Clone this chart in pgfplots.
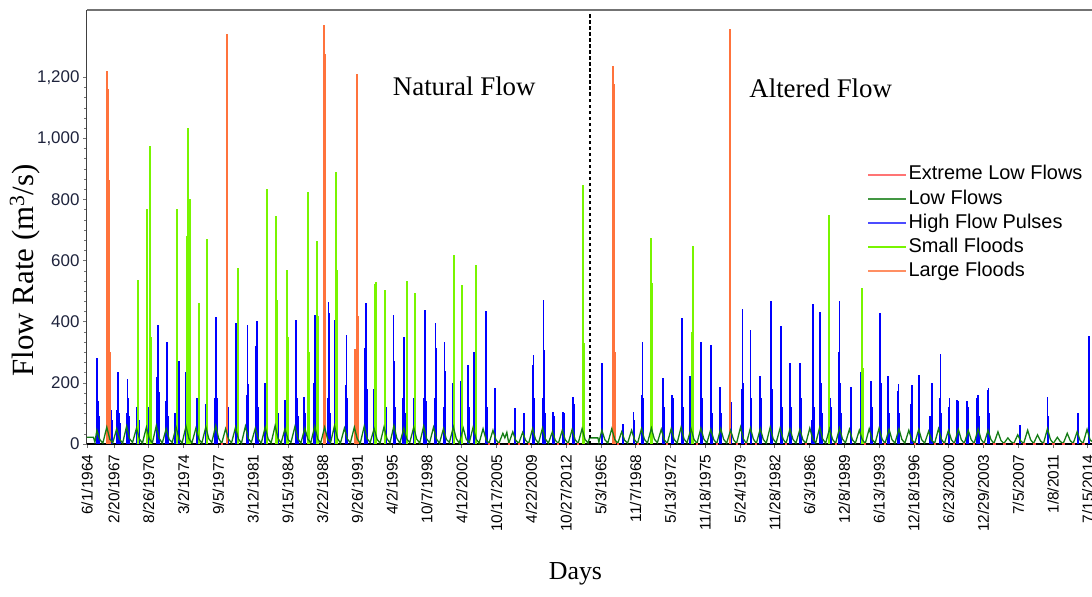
\documentclass[border=0pt]{standalone}
\usepackage{fontspec}
\setmainfont{Liberation Sans}
\newfontfamily\seriffont{Liberation Serif}
\usepackage{xcolor}
\usepackage{pgfplots}
\pgfplotsset{compat=1.18}

\definecolor{exlow}{RGB}{255,70,70}
\definecolor{lowf}{RGB}{20,125,20}
\definecolor{hfp}{RGB}{0,0,255}
\definecolor{smf}{RGB}{120,245,0}
\definecolor{lgf}{RGB}{255,115,60}
\definecolor{ticknavy}{RGB}{30,35,60}

\begin{document}
\begin{tikzpicture}
\begin{axis}[
    name=ax,
    scale only axis,
    width=1005bp, height=434bp,
    xmin=0, xmax=101.5,
    ymin=0, ymax=1420,
    axis x line*=bottom, axis y line*=left,
    x axis line style={-, black, line width=1.6bp},
    y axis line style={-, black!75, line width=1bp},
    tick align=outside,
    tick style={black!55, line width=0.6bp},
    major tick length=4bp, minor tick length=3bp,
    ytick={0,200,...,1200},
    minor y tick num=5,
    /pgf/number format/1000 sep={,},
    /pgf/number format/assume math mode=true,
    yticklabel style={font=\fontsize{17}{20}\selectfont, text=ticknavy},
    xtick={0,2.72,6.23,9.75,13.26,16.77,20.28,23.80,27.31,30.82,34.33,37.85,41.36,44.87,48.39,
           51.90,55.41,58.92,62.43,65.95,69.46,72.97,76.48,80.00,83.51,87.02,90.53,94.05,97.56,101.07},
    xticklabels={6/1/1964,2/20/1967,8/26/1970,3/2/1974,9/5/1977,3/12/1981,9/15/1984,3/22/1988,
                 9/26/1991,4/2/1995,10/7/1998,4/12/2002,10/17/2005,4/22/2009,10/27/2012,
                 5/3/1965,11/7/1968,5/13/1972,11/18/1975,5/24/1979,11/28/1982,6/3/1986,
                 12/8/1989,6/13/1993,12/18/1996,6/23/2000,12/29/2003,7/5/2007,1/8/2011,7/15/2014},
    x tick label style={rotate=90, anchor=east, font=\fontsize{15.5}{18}\selectfont, xshift=-3bp},
    xlabel={Days},
    xlabel style={font=\seriffont\fontsize{26}{30}\selectfont, at={(rel axis cs:0.486,-0.30)}, anchor=center},
    ylabel={Flow Rate (m\textsuperscript{3}/s)},
    ylabel style={font=\seriffont\fontsize{31}{34}\selectfont, at={(rel axis cs:-0.062,0.40)}, anchor=center},
    legend cell align=left,
    legend image code/.code={\draw[#1] (0bp,0bp) -- (38bp,0bp);},
    legend style={at={(0.776,0.646)}, anchor=north west, draw=none, fill=none,
                  font=\fontsize{20}{24}\selectfont, row sep=2.7bp, inner sep=0pt,
                  nodes={inner sep=1.5bp, text height=14.5bp, text depth=4bp}},
    unbounded coords=jump,
]

\addlegendimage{color=exlow!75, line width=2bp}
\addlegendentry{Extreme Low Flows}
\addlegendimage{color=lowf!80, line width=2bp}
\addlegendentry{Low Flows}
\addlegendimage{color=hfp!70, line width=2bp}
\addlegendentry{High Flow Pulses}
\addlegendimage{color=smf, line width=2bp}
\addlegendentry{Small Floods}
\addlegendimage{color=lgf!80, line width=2bp}
\addlegendentry{Large Floods}

% high flow pulses
\addplot[ycomb, hfp, line width=1.8bp, forget plot] coordinates {
(1.0,180)(1.04,281)(1.1,100)(1.15,140)(1.22,90)
(2.4,70)(2.45,110)(2.5,80)
(3.05,110)(3.1,234)(3.15,145)(3.25,100)(3.3,70)
(4.05,100)(4.1,212)(4.15,150)(4.22,90)(4.3,60)
(5.05,120)(5.1,212)(5.15,140)(5.22,80)
(6.15,110)(6.25,120)(6.3,70)
(7.1,220)(7.15,170)(7.2,390)(7.25,170)(7.32,100)
(8.0,140)(8.05,335)(8.1,130)(8.18,90)
(8.9,100)(9.2,215)(9.25,100)(9.3,272)(9.35,130)
(10.0,237)(10.05,140)(10.12,100)(10.2,70)
(11.1,150)(11.15,110)(11.2,80)
(12.0,130)(12.08,90)(12.15,60)
(12.95,150)(13.0,417)(13.05,305)(13.1,150)(13.18,100)
(14.2,120)(14.25,80)
(15.0,150)(15.05,395)(15.1,335)(15.15,150)(15.22,90)
(16.1,160)(16.2,390)(16.25,195)(16.3,120)
(17.1,320)(17.15,180)(17.2,404)(17.25,120)(17.32,80)
(18.0,200)(18.05,140)(18.1,90)
(19.2,150)(19.25,100)
(20.0,145)(20.1,100)
(21.05,120)(21.1,407)(21.15,230)(21.2,150)(21.28,90)
(21.9,155)(21.95,150)(22.0,100)
(22.95,200)(23.0,423)(23.05,180)(23.1,120)
(24.35,150)(24.4,463)(24.45,430)(24.5,200)(24.55,100)
(25.0,200)(25.05,406)(25.1,150)
(26.15,193)(26.2,357)(26.25,150)(26.3,90)
(27.1,150)(27.2,100)
(28.1,313)(28.15,150)(28.2,461)(28.25,180)(28.3,100)
(29.0,180)(29.05,120)(29.15,90)
(30.1,220)(30.15,215)(30.2,120)(30.25,90)
(30.95,423)(31.0,270)(31.05,150)(31.1,120)
(31.95,150)(32.0,350)(32.05,180)(32.1,100)
(33.0,150)(33.1,100)
(34.05,150)(34.1,437)(34.15,346)(34.2,140)(34.25,90)
(35.1,150)(35.2,395)(35.25,313)(35.3,120)
(36.05,120)(36.1,335)(36.15,240)(36.2,100)
(37.0,200)(37.05,150)(37.1,90)
(37.8,205)(37.85,120)(37.9,90)
(38.5,259)(38.55,120)(39.05,140)(39.1,302)(39.15,120)
(40.25,150)(40.3,434)(40.35,200)(40.4,120)
(41.15,175)(41.2,183)(41.25,100)
(43.2,117)(43.25,70)
(44.1,101)(44.15,80)
(45.05,260)(45.1,291)(45.15,150)(45.2,90)
(46.05,150)(46.1,472)(46.15,308)(46.2,200)(46.25,100)
(47.1,106)(47.15,90)
(48.05,80)(48.1,106)(48.15,100)
(49.1,155)(49.15,130)(49.2,90)
(50.05,150)(50.1,338)(50.15,120)
(52.0,266)(52.05,100)
(54.1,67)
(55.2,106)(55.25,80)
(56.05,160)(56.1,335)(56.15,150)(56.2,90)
(57.05,150)(57.1,120)
(58.15,160)(58.2,215)(58.25,120)
(59.1,160)(59.15,150)(59.2,90)
(60.05,150)(60.1,412)(60.15,255)(60.2,120)
(60.9,221)(60.95,150)(61.0,100)
(62.0,335)(62.05,225)(62.1,150)(62.15,90)
(63.0,324)(63.05,150)(63.1,100)
(63.9,186)(63.95,170)(64.0,100)
(65.0,138)(65.05,100)
(66.15,180)(66.2,441)(66.25,200)(66.3,120)
(67.0,374)(67.05,150)(67.1,120)
(68.0,223)(68.05,150)(68.1,100)
(69.05,253)(69.1,467)(69.15,180)(69.2,120)
(70.05,150)(70.1,387)(70.15,230)(70.2,120)
(71.0,264)(71.05,190)(71.1,120)
(72.0,264)(72.05,240)(72.1,150)(72.15,90)
(73.25,80)(73.3,459)(73.35,200)(73.4,120)
(74.0,431)(74.05,400)(74.1,200)(74.15,150)(74.2,100)
(75.0,150)(75.1,120)
(75.95,300)(76.0,469)(76.05,200)(76.1,150)(76.15,100)
(77.1,183)(77.15,185)(77.2,100)
(78.2,237)(78.25,150)
(79.2,205)(79.25,120)
(80.05,290)(80.1,428)(80.15,200)(80.2,120)
(80.9,221)(80.95,188)(81.0,100)
(81.9,173)(81.95,197)(82.0,100)
(83.25,130)(83.3,194)(83.35,100)
(84.0,226)(84.05,120)
(85.1,90)(85.3,201)(85.35,100)
(86.15,150)(86.2,295)(86.25,100)
(87.0,120)(87.1,150)
(87.9,144)(87.95,140)(88.0,90)
(88.9,141)(88.95,120)
(89.9,150)(90.0,161)(90.05,90)
(91.0,177)(91.05,183)(91.1,100)
(94.2,62)
(97.0,155)(97.05,90)
(100.05,100)(100.1,101)
(101.15,100)(101.2,354)
};

% small floods
\addplot[ycomb, smf, line width=2bp, forget plot] coordinates {
(5.15,535)(5.2,275)
(6.05,770)(6.1,680)(6.4,975)(6.45,350)
(9.06,770)(9.1,300)
(10.07,680)(10.23,1035)(10.4,800)(10.45,460)
(11.35,460)
(12.09,670)(12.15,300)
(15.3,575)
(18.15,835)(18.2,350)
(19.1,745)(19.15,470)
(20.2,570)(20.25,350)
(22.35,825)(22.4,300)
(23.2,645)(23.25,665)(23.3,420)
(25.15,890)(25.2,570)
(29.1,525)(29.15,530)
(30.1,505)
(32.35,532)
(33.1,495)
(37.1,620)
(37.9,521)
(39.3,587)
(50.1,847)(50.15,330)
(57.0,674)(57.05,527)(57.1,335)
(61.2,649)(61.15,368)
(74.9,750)(74.95,400)
(78.3,510)(78.35,250)
};

% large floods
\addplot[ycomb, lgf, line width=2bp, forget plot] coordinates {
(2.05,1220)(2.1,215)(2.15,1160)(2.2,865)(2.25,695)(2.3,300)
(14.1,1340)(14.15,160)
(23.9,925)(23.95,1370)(24.0,1275)(24.05,480)
(27.1,310)(27.3,1210)(27.35,420)
(53.15,1237)(53.2,1177)(53.25,480)(53.3,300)
(64.9,1357)(64.95,138)
};

% low flows
\addplot[lowf, line width=1.3bp, forget plot] coordinates {
(0,22)(0.65,22)(0.8,6)
(1,45)(1.3,14)(1.6,3)
(2,55)(2.3,16)(2.6,4)
(3,50)(3.3,15)(3.6,3)
(4,58)(4.3,17)(4.6,5)
(5,52)(5.3,16)(5.6,3)
(6,55)(6.3,16)(6.6,4)
(7,60)(7.3,18)(7.6,3)
(8,50)(8.3,15)(8.6,5)
(9,55)(9.3,16)(9.6,3)
(10,58)(10.3,17)(10.6,4)
(11,52)(11.3,16)(11.6,3)
(12,56)(12.3,17)(12.6,5)
(13,60)(13.3,18)(13.6,2)
(14,50)(14.3,15)(14.6,4)
(15,55)(15.3,16)(15.6,3)
(16,58)(16.3,17)(16.6,5)
(17,52)(17.3,16)(17.6,3)
(18,55)(18.3,16)(18.6,4)
(19,60)(19.3,18)(19.6,3)
(20,50)(20.3,15)(20.6,5)
(21,57)(21.3,17)(21.6,3)
(22,52)(22.3,16)(22.6,4)
(23,58)(23.3,17)(23.6,3)
(24,55)(24.3,16)(24.6,5)
(25,60)(25.3,18)(25.6,3)
(26,52)(26.3,16)(26.6,4)
(27,55)(27.3,16)(27.6,3)
(28,58)(28.3,17)(28.6,5)
(29,50)(29.3,15)(29.6,3)
(30,56)(30.3,17)(30.6,4)
(31,60)(31.3,18)(31.6,3)
(32,52)(32.3,16)(32.6,5)
(33,55)(33.3,16)(33.6,3)
(34,58)(34.3,17)(34.6,4)
(35,55)(35.3,16)(35.6,3)
(36,50)(36.3,15)(36.6,5)
(37,56)(37.3,17)(37.6,3)
(38,52)(38.3,16)(38.6,4)
(39,55)(39.3,16)(39.6,3)
(40,50)(40.3,15)(40.6,2)
(41,45)(41.3,14)(41.6,2)
(42,35)(42.2,20)(42.4,38)(42.6,2)
(43,40)(43.3,12)(43.6,2)
(44,38)(44.3,12)(44.6,2)
(45,50)(45.3,15)(45.6,3)
(46,52)(46.3,16)(46.6,3)
(47,40)(47.3,12)(47.6,2)
(48,45)(48.3,14)(48.6,2)
(49,48)(49.3,14)(49.6,2)
(50,50)(50.3,15)(50.6,3)(50.75,20)(51.6,20)(51.7,6)
(52,45)(52.3,14)(52.6,3)
(53,50)(53.3,15)(53.6,2)
(54,40)(54.3,12)(54.6,3)
(55,45)(55.3,14)(55.6,2)
(56,50)(56.3,15)(56.6,3)
(57,52)(57.3,16)(57.6,4)
(58,48)(58.3,14)(58.6,2)
(59,50)(59.3,15)(59.6,3)
(60,55)(60.3,16)(60.6,4)
(61,50)(61.3,15)(61.6,2)
(62,52)(62.3,16)(62.6,3)
(63,48)(63.3,14)(63.6,2)
(64,50)(64.3,15)(64.6,3)
(65,45)(65.3,14)(65.6,2)
(66,55)(66.3,16)(66.6,2)
(67,52)(67.3,16)(67.6,2)
(68,50)(68.3,15)(68.6,3)
(69,55)(69.3,16)(69.6,4)
(70,52)(70.3,16)(70.6,2)
(71,50)(71.3,15)(71.6,3)
(72,48)(72.3,14)(72.6,2)
(73,52)(73.3,16)(73.6,4)
(74,55)(74.3,16)(74.6,3)
(75,50)(75.3,15)(75.6,2)
(76,52)(76.3,16)(76.6,4)
(77,48)(77.3,14)(77.6,3)
(78,45)(78.3,14)(78.6,2)
(79,50)(79.3,15)(79.6,3)
(80,52)(80.3,16)(80.6,2)
(81,48)(81.3,14)(81.6,3)
(82,50)(82.3,15)(82.6,3)
(83,45)(83.3,14)(83.6,2)
(84,48)(84.3,14)(84.6,3)
(85,42)(85.3,13)(85.6,2)
(86,50)(86.3,15)(86.6,2)
(87,45)(87.3,14)(87.6,2)
(88,48)(88.3,14)(88.6,2)
(89,45)(89.3,14)(89.6,2)
(90,50)(90.3,15)(90.6,2)
(91,45)(91.3,14)(91.6,2)
(92,40)(92.3,12)(92.6,2)
(93,20)(93.3,8)(93.6,2)
(94,30)(94.3,10)(94.6,2)
(95,45)(95.3,14)(95.6,2)
(96,30)(96.3,10)(96.6,2)
(97,50)(97.3,15)(97.6,2)
(98,22)(98.3,8)(98.6,2)
(99,35)(99.3,11)(99.6,2)
(100,40)(100.3,12)(100.6,2)
(101,48)(101.3,14)(101.5,8)
};

% extreme low flows
\addplot[exlow, line width=1.8bp, forget plot] coordinates {
(13.5,1)(13.7,1)(13.7,nan)
(40.5,1)(40.7,1)(40.7,nan)(41.5,1)(41.7,1)(41.7,nan)
(42.5,1)(42.7,1)(42.7,nan)(43.5,1)(43.7,1)(43.7,nan)
(44.5,1)(44.7,1)(44.7,nan)(47.5,1)(47.7,1)(47.7,nan)
(48.5,1)(48.7,1)(48.7,nan)(49.5,1)(49.7,1)(49.7,nan)
(53.5,1)(53.7,1)(53.7,nan)(55.5,1)(55.7,1)(55.7,nan)
(58.5,1)(58.7,1)(58.7,nan)(61.5,1)(61.7,1)(61.7,nan)
(63.5,1)(63.7,1)(63.7,nan)(65.5,1)(65.7,1)(65.7,nan)
(66.5,1)(66.7,1)(66.7,nan)(67.5,1)(67.7,1)(67.7,nan)
(70.5,1)(70.7,1)(70.7,nan)(72.5,1)(72.7,1)(72.7,nan)
(75.5,1)(75.7,1)(75.7,nan)(78.5,1)(78.7,1)(78.7,nan)
(80.5,1)(80.7,1)(80.7,nan)(83.5,1)(83.7,1)(83.7,nan)
(85.5,1)(85.7,1)(85.7,nan)(86.5,1)(86.7,1)(86.7,nan)
(87.5,1)(87.7,1)(87.7,nan)(88.5,1)(88.7,1)(88.7,nan)
(89.5,1)(89.7,1)(89.7,nan)(90.5,1)(90.7,1)(90.7,nan)
(91.5,1)(91.8,1)(91.8,nan)(92.5,1)(92.8,1)(92.8,nan)
(93.5,1)(93.8,1)(93.8,nan)(94.5,1)(94.8,1)(94.8,nan)
(95.5,1)(95.8,1)(95.8,nan)(96.5,1)(96.8,1)(96.8,nan)
(97.5,1)(97.8,1)(97.8,nan)(98.5,1)(98.8,1)(98.8,nan)
(99.5,1)(99.8,1)(99.8,nan)(100.5,1)(100.8,1)(100.8,nan)
};

\draw[black!55, line width=1.2bp] (rel axis cs:0,1) -- (rel axis cs:1,1);
\draw[black, line width=1.5bp, dash pattern=on 3.5bp off 2.5bp] (axis cs:50.8,0) -- (axis cs:50.8,1410);
\node[font=\seriffont\fontsize{27}{30}\selectfont, anchor=center] at (axis cs:38.1,1169) {Natural Flow};
\node[font=\seriffont\fontsize{27}{30}\selectfont, anchor=center] at (axis cs:74.1,1164) {Altered Flow};
\end{axis}
\pgfresetboundingbox
\path ([xshift=-87bp,yshift=-152bp]ax.south west) rectangle ([yshift=10bp]ax.north east);
\end{tikzpicture}
\end{document}
